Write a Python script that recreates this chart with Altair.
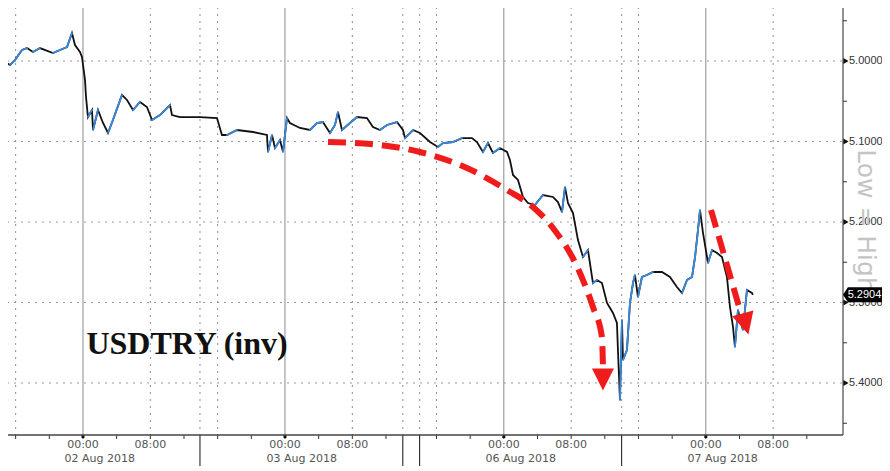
import altair as alt
import pandas as pd

# ---- price series (compressed session hours from 02 Aug 00:00, USDTRY level) ----
hours = [-9.86, -9.27, -8.67, -8.08, -7.25, -6.65, -5.94, -5.11, -3.56, -2.73,
         -1.90, -1.31, -0.95, -0.36, -0.12, 0.24, 0.36, 0.59, 1.07, 1.19,
         1.78, 2.38, 2.97, 3.56, 4.63, 5.23, 5.94, 6.77, 7.60, 8.20,
         9.15, 10.34, 10.57, 11.52, 13.90, 15.92, 16.51, 17.11, 18.30, 20.20,
         21.86, 21.98, 22.46, 22.81, 23.41, 23.76, 24.24, 24.59, 25.78, 26.97,
         27.80, 28.51, 29.35, 29.94, 30.30, 30.77, 31.72, 32.55, 33.74, 34.45,
         35.29, 36.12, 37.31, 38.02, 38.26, 39.21, 40.04, 41.23, 42.18, 42.77,
         43.96, 45.03, 46.22, 46.81, 47.52, 48.12, 48.71, 49.54, 50.38, 50.73,
         51.09, 51.68, 52.28, 52.87, 53.70, 54.65, 55.84, 56.43, 56.91, 57.27,
         57.62, 58.22, 58.81, 59.41, 60.00, 60.59, 61.07, 61.66, 62.26, 62.97,
         63.44, 63.56, 63.80, 64.04, 64.16, 64.63, 64.99, 65.35, 65.58, 65.94,
         66.41, 67.01, 67.72, 68.79, 69.74, 70.57, 71.17, 71.77, 72.36, 72.72,
         73.07, 73.31, 73.67, 74.26, 74.74, 75.33, 75.92, 76.51, 76.87, 77.23,
         77.46, 77.82, 78.41, 78.89, 79.48, 79.60]
values = [4.9963, 5.0012, 5.0050, 4.9988, 4.9863, 4.9839, 4.9888, 4.9839, 4.9901, 4.9863,
          4.9826, 4.9652, 4.9801, 4.9888, 4.9950, 5.0236, 5.0447, 5.0696, 5.0609, 5.0857,
          5.0609, 5.0770, 5.0894, 5.0733, 5.0422, 5.0484, 5.0609, 5.0509, 5.0571, 5.0733,
          5.0671, 5.0547, 5.0671, 5.0696, 5.0696, 5.0708, 5.0919, 5.0919, 5.0857, 5.0882,
          5.0919, 5.1130, 5.0919, 5.1081, 5.0981, 5.1130, 5.0708, 5.0770, 5.0832, 5.0857,
          5.0770, 5.0758, 5.0894, 5.0795, 5.0634, 5.0857, 5.0770, 5.0696, 5.0708, 5.0820,
          5.0857, 5.0795, 5.0758, 5.0857, 5.0957, 5.0857, 5.0894, 5.1006, 5.1068, 5.1019,
          5.1006, 5.0957, 5.0957, 5.1006, 5.1130, 5.1019, 5.1143, 5.1081, 5.1130, 5.1230,
          5.1416, 5.1478, 5.1689, 5.1764, 5.1789, 5.1665, 5.1689, 5.1752, 5.1876, 5.1565,
          5.1764, 5.1888, 5.2224, 5.2435, 5.2348, 5.2758, 5.2720, 5.2758, 5.3006, 5.3130,
          5.3255, 5.3590, 5.4211, 5.3217, 5.3714, 5.3590, 5.3006, 5.2758, 5.2658, 5.2932,
          5.2683, 5.2658, 5.2621, 5.2621, 5.2683, 5.2807, 5.2882, 5.2720, 5.2683, 5.2435,
          5.2099, 5.1851, 5.2137, 5.2509, 5.2348, 5.2385, 5.2435, 5.2683, 5.3056, 5.3304,
          5.3553, 5.3093, 5.3342, 5.2845, 5.2882, 5.2904]

# ---- axes / grid ----
day_starts = [0, 24, 50, 74]
dotted_x = [-8, 8, 16, 32, 42, 58, 66, 82]
session_breaks = [13.9, 38.0, 40.0, 64.0]
x_tick_pos = [-8, -4, 0, 4, 8, 12, 16, 20, 24, 28, 32, 36, 42, 46, 50, 54, 58,
              62, 66, 70, 74, 78, 82, 86]
time_pos = [0, 8, 24, 32, 50, 58, 74, 82]
time_labels = ["00:00", "08:00", "00:00", "08:00", "00:00", "08:00", "00:00", "08:00"]
date_pos = [2, 26, 52, 76]
date_labels = ["02 Aug 2018", "03 Aug 2018", "06 Aug 2018", "07 Aug 2018"]
y_ticks = [5.0, 5.1, 5.2, 5.3, 5.4]
y_minor = [4.95, 5.05, 5.15, 5.25, 5.35, 5.45]
last_price = [5.2904]

# ---- annotations (red dashed arrows) ----
arrow1_h = [29.11, 35.29, 40.04, 45.62, 50.38, 53.46, 55.84, 59.05, 60.59, 61.66, 61.78]
arrow1_v = [5.1006, 5.1043, 5.1130, 5.1329, 5.1602, 5.1814, 5.2074, 5.2634, 5.3056, 5.3429, 5.3789]
arrow2_h = [74.62, 78.06]
arrow2_v = [5.1851, 5.3093]
head_h = [61.78, 78.59]
head_v = [5.3901, 5.3214]
head_angle = [0, 345]

title_text = "USDTRY (inv)"
side_text = "Low = High"

# plot area occupies page x 0..843, y 0..435 (negative padding cancels the page margin)
W, H = 843, 435
RED = "#f01c1c"
xs = alt.Scale(domain=[-9.86, 90.3], nice=False, zero=False)
ys = alt.Scale(domain=[4.9242, 5.4646], nice=False, zero=False, reverse=True)

series = pd.DataFrame({"h": hours, "v": values})
segs = pd.DataFrame({"h0": hours[:-1], "v0": values[:-1], "h1": hours[1:], "v1": values[1:]})
segs_up = segs[segs["v1"] < segs["v0"]]


def Xq(f):
    return alt.X(f, type="quantitative", scale=xs, axis=None)


def Yq(f):
    return alt.Y(f, type="quantitative", scale=ys, axis=None)


LABEL_FONT = "DejaVu Sans"
YLAB_FONT = "Liberation Sans"

hgrid = alt.Chart(pd.DataFrame({"v": y_ticks})).mark_rule(
    color="#9a9a9a", strokeDash=[2, 5], strokeWidth=1
).encode(y=Yq("v"), x=alt.value(0), x2=alt.value(W))

vsolid = alt.Chart(pd.DataFrame({"h": day_starts})).mark_rule(
    color="#8c8c8c", strokeWidth=1
).encode(x=Xq("h"), y=alt.value(0), y2=alt.value(H))

vdotted = alt.Chart(pd.DataFrame({"h": dotted_x + session_breaks})).mark_rule(
    color="#8c8c8c", strokeDash=[2, 5], strokeWidth=1
).encode(x=Xq("h"), y=alt.value(0), y2=alt.value(H))

seps = alt.Chart(pd.DataFrame({"h": session_breaks})).mark_rule(
    color="#111", strokeWidth=1
).encode(x=Xq("h"), y=alt.value(H), y2=alt.value(H + 31))

xticks = alt.Chart(pd.DataFrame({"h": x_tick_pos})).mark_rule(
    color="#333", strokeWidth=1
).encode(x=Xq("h"), y=alt.value(H), y2=alt.value(H + 4))

xmajor = alt.Chart(pd.DataFrame({"h": day_starts})).mark_rule(
    color="#111", strokeWidth=3
).encode(x=Xq("h"), y=alt.value(H), y2=alt.value(H + 3))

bottom_domain = alt.Chart(pd.DataFrame({"v": [0]})).mark_rule(
    color="#444", strokeWidth=1.3
).encode(y=alt.value(H), x=alt.value(0), x2=alt.value(W))

right_domain = alt.Chart(pd.DataFrame({"v": [0]})).mark_rule(
    color="#555", strokeWidth=1.3
).encode(x=alt.value(W), y=alt.value(0), y2=alt.value(H))

ymajor = alt.Chart(pd.DataFrame({"v": y_ticks})).mark_point(
    shape="triangle-right", size=36, filled=True, color="#111", opacity=1, clip=False
).encode(y=Yq("v"), x=alt.value(W + 3))

yminor = alt.Chart(pd.DataFrame({"v": y_minor})).mark_rule(
    color="#333", strokeWidth=1, clip=False
).encode(y=Yq("v"), x=alt.value(W), x2=alt.value(W + 4))

ylabels = alt.Chart(pd.DataFrame({"v": y_ticks})).mark_text(
    font=YLAB_FONT, fontSize=11, color="#333", align="left", baseline="middle"
).encode(y=Yq("v"), x=alt.value(W + 6), text=alt.Text("v:Q", format=".4f"))

tlabels = alt.Chart(pd.DataFrame({"h": time_pos, "t": time_labels})).mark_text(
    font=LABEL_FONT, fontSize=11, color="#555", align="center", baseline="middle"
).encode(x=Xq("h"), y=alt.value(H + 10), text="t:N")

dates = alt.Chart(pd.DataFrame({"h": date_pos, "t": date_labels})).mark_text(
    font=LABEL_FONT, fontSize=11, color="#555", baseline="middle", align="center"
).encode(x=Xq("h"), y=alt.value(H + 24), text="t:N")

line = alt.Chart(series).mark_line(color="#111111", strokeWidth=1.8, clip=True).encode(
    x=Xq("h"), y=Yq("v")
)

blue = alt.Chart(segs_up).mark_rule(color="#3b8ade", strokeWidth=1.8, strokeCap="round", clip=True).encode(
    x=Xq("h0"), y=Yq("v0"), x2="h1:Q", y2="v1:Q"
)

arrow1 = alt.Chart(pd.DataFrame({"h": arrow1_h, "v": arrow1_v})).mark_line(
    color=RED, strokeWidth=6, strokeDash=[18, 9], interpolate="monotone"
).encode(x=Xq("h"), y=Yq("v"))

arrow2 = alt.Chart(pd.DataFrame({"h": arrow2_h, "v": arrow2_v})).mark_line(
    color=RED, strokeWidth=6, strokeDash=[18, 9]
).encode(x=Xq("h"), y=Yq("v"))

heads = alt.Chart(pd.DataFrame({"h": head_h, "v": head_v, "a": head_angle})).mark_point(
    shape="M -1 -0.6 L 1 -0.6 L 0 1.4 Z", size=484, filled=True, color=RED, opacity=1
).encode(x=Xq("h"), y=Yq("v"), angle=alt.Angle("a:Q", scale=None))

title = alt.Chart(pd.DataFrame({"t": [title_text]})).mark_text(
    font="Liberation Serif", fontSize=32, fontWeight="bold", color="#111",
    align="center", baseline="alphabetic"
).encode(x=alt.value(187), y=alt.value(354), text="t:N")

side = alt.Chart(pd.DataFrame({"t": [side_text]})).mark_text(
    font="DejaVu Sans", fontSize=25, color="#c4c4c4", angle=90,
    align="center", baseline="middle"
).encode(x=alt.value(W + 23), y=alt.value(221), text="t:N")

tag = alt.Chart(pd.DataFrame({"v": last_price})).mark_point(
    shape="M -1 0 L -0.75 -0.38 L 1 -0.38 L 1 0.38 L -0.75 0.38 Z",
    size=1521, filled=True, color="#000000", opacity=1, clip=False
).encode(x=alt.value(W + 19.5), y=Yq("v"))

tag_text = alt.Chart(pd.DataFrame({"v": last_price})).mark_text(
    font=YLAB_FONT, fontSize=11, color="#ffffff", align="center", baseline="middle"
).encode(x=alt.value(W + 21.5), y=Yq("v"), text=alt.Text("v:Q", format=".4f"))

chart = alt.layer(
    hgrid, vsolid, vdotted, seps, xticks, xmajor, bottom_domain, right_domain,
    ymajor, yminor, ylabels, tlabels, dates, line, blue,
    arrow1, arrow2, heads, title, side, tag, tag_text
).properties(
    width=W, height=H,
    padding={"left": -8, "top": -8, "right": 39, "bottom": 36},
    autosize=alt.AutoSizeParams(type="none"),
    background="white",
).configure_view(stroke=None)

chart.save("out.html", embed_options={"renderer": "svg", "actions": False})
